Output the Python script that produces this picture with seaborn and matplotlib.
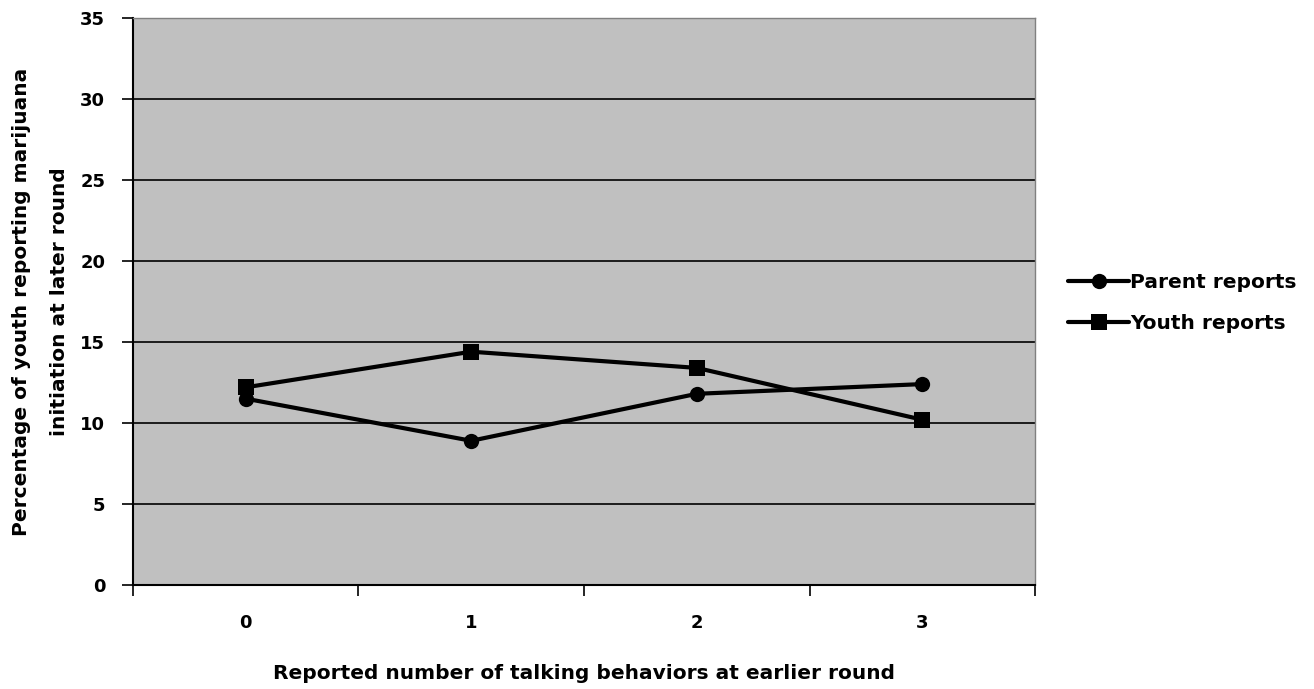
import matplotlib
matplotlib.use("Agg")
import matplotlib.pyplot as plt
import seaborn as sns
import pandas as pd
from matplotlib.ticker import FixedLocator

categories = ["0", "1", "2", "3"]
parent_reports = [11.5, 8.9, 11.8, 12.4]
youth_reports = [12.2, 14.4, 13.4, 10.2]
series_names = ["Parent reports", "Youth reports"]
y_ticks = [0, 5, 10, 15, 20, 25, 30, 35]

sns.set_theme(style="white")
plt.rcParams['font.family'] = ['DejaVu Sans']
plt.rcParams['font.weight'] = 'bold'
plt.rcParams['text.color'] = 'black'
plt.rcParams['axes.labelcolor'] = 'black'
plt.rcParams['xtick.color'] = 'black'
plt.rcParams['ytick.color'] = 'black'

df = pd.DataFrame({
    "x": list(range(len(categories))) * 2,
    "value": parent_reports + youth_reports,
    "series": [series_names[0]] * 4 + [series_names[1]] * 4,
})

fig = plt.figure(figsize=(13.14, 6.89), dpi=100)
ax = fig.add_axes([0.1012, 0.151, 0.6865, 0.8229])
ax.set_facecolor("#C0C0C0")

sns.lineplot(data=df, x="x", y="value", hue="series", style="series",
             markers={series_names[0]: "o", series_names[1]: "s"}, dashes=False,
             palette={series_names[0]: "black", series_names[1]: "black"},
             linewidth=3, markersize=11, markeredgewidth=0, ax=ax)

ax.set_xlim(-0.5, 3.5)
ax.set_ylim(0, 35)
ax.set_yticks(y_ticks)
ax.set_yticklabels([str(v) for v in y_ticks], fontsize=13, fontweight="bold", color="black")
ax.set_xticks(range(len(categories)))
ax.set_xticklabels(categories, fontsize=13, fontweight="bold", color="black")
ax.xaxis.set_minor_locator(FixedLocator([-0.5, 0.5, 1.5, 2.5, 3.5]))
ax.tick_params(axis="x", which="major", length=0, pad=21)
ax.tick_params(axis="x", which="minor", length=8, width=1.2, color="black", direction="out", bottom=True)
ax.tick_params(axis="y", which="major", length=8, width=1.2, color="black", direction="out", left=True, pad=12)

for y in y_ticks[1:]:
    ax.axhline(y, color="black", linewidth=1.2, zorder=1)

for s in ["top", "right"]:
    ax.spines[s].set_visible(True)
    ax.spines[s].set_color("#808080")
    ax.spines[s].set_linewidth(1)
for s in ["left", "bottom"]:
    ax.spines[s].set_color("black")
    ax.spines[s].set_linewidth(1.5)

ax.set_xlabel("Reported number of talking behaviors at earlier round", fontsize=14.5,
              fontweight="bold", labelpad=23, color="black")
ax.set_ylabel("Percentage of youth reporting marijuana\ninitiation at later round", fontsize=14.5,
              fontweight="bold", labelpad=8, color="black", linespacing=2.25)

leg = ax.legend(loc="center left", bbox_to_anchor=(1.017, 0.497), frameon=False,
                fontsize=14.5, handlelength=3.0, handletextpad=0.05, labelspacing=1.1)
for t in leg.get_texts():
    t.set_fontweight("bold")
    t.set_color("black")
for h in leg.legend_handles:
    h.set_color("black")

fig.savefig("out.png", dpi=100)
